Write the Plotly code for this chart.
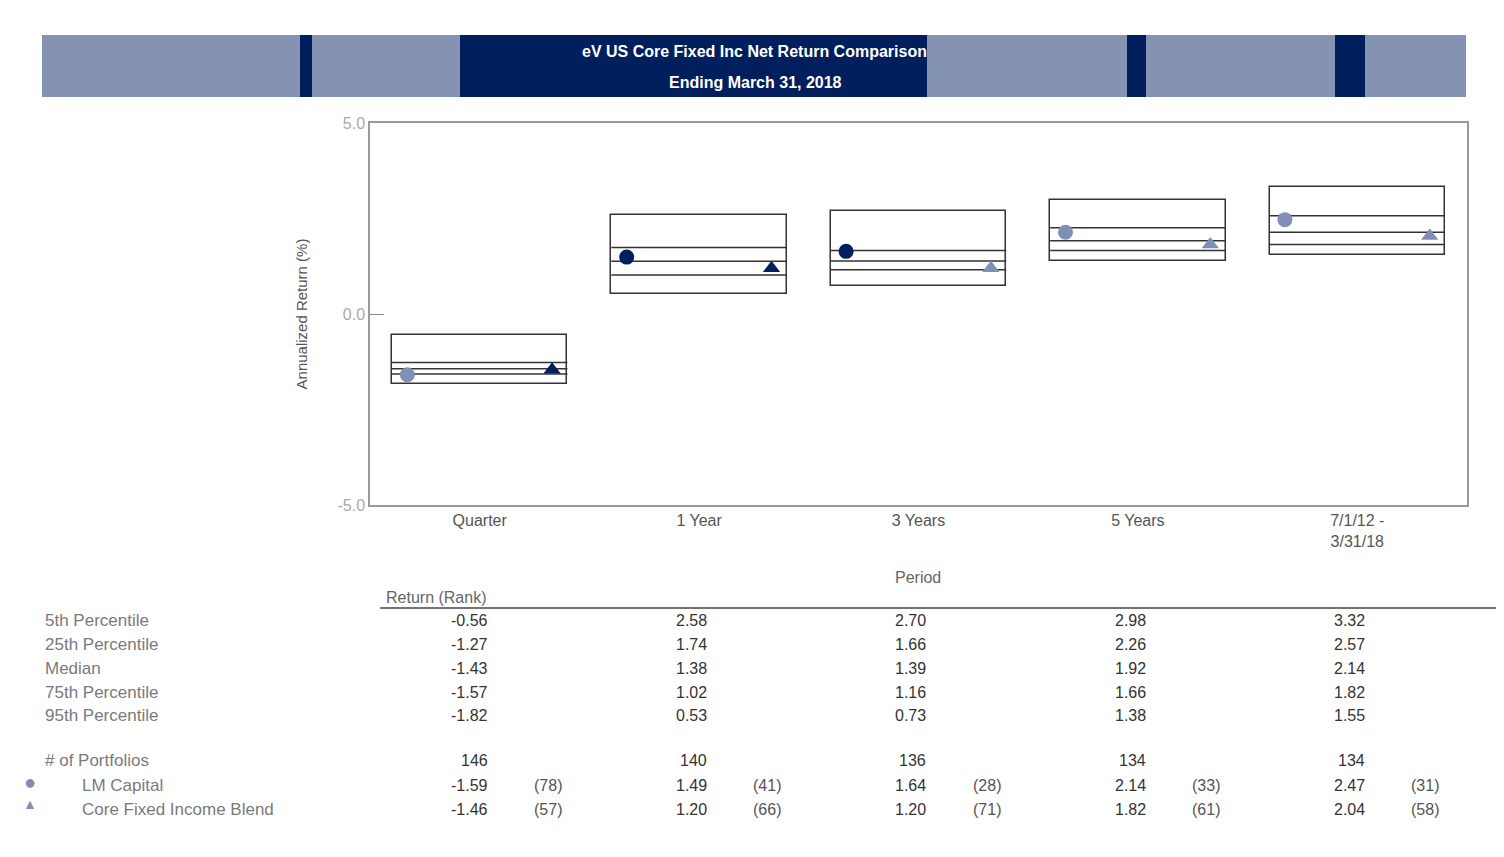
import plotly.graph_objects as go

periods = ["Quarter", "1 Year", "3 Years", "5 Years", "7/1/12 -<br>3/31/18"]
p5 = [-0.56, 2.58, 2.70, 2.98, 3.32]
p25 = [-1.27, 1.74, 1.66, 2.26, 2.57]
median = [-1.43, 1.38, 1.39, 1.92, 2.14]
p75 = [-1.57, 1.02, 1.16, 1.66, 1.82]
p95 = [-1.82, 0.53, 0.73, 1.38, 1.55]
n_portfolios = [146, 140, 136, 134, 134]
lm_capital = [-1.59, 1.49, 1.64, 2.14, 2.47]
lm_rank = [78, 41, 28, 33, 31]
blend = [-1.46, 1.20, 1.20, 1.82, 2.04]
blend_rank = [57, 66, 71, 61, 58]

row_labels = ["5th Percentile", "25th Percentile", "Median", "75th Percentile", "95th Percentile"]

NAVY = "#001f5c"
LIGHT = "#7f8fb5"
FONT = "Liberation Sans, Arial"

# page has an 8px body margin, so the figure is 8px smaller and coordinates below are screen pixels
OFF = 8
W, H = 1504 - OFF, 857 - OFF
L, R, T, B = 370, 1467, 123, 505


def px(x):
    return (x - L) / (R - L)


def py(y):
    return (B - y) / (B - T)


xs = list(range(len(periods)))
fig = go.Figure()

# floating boxes 5th..95th
fig.add_trace(go.Bar(
    x=xs, y=[a - b for a, b in zip(p5, p95)], base=p95, width=0.8,
    marker=dict(color="white", line=dict(color="#333333", width=1.5)),
    hoverinfo="skip", showlegend=False,
))

# percentile lines inside boxes
lx, ly = [], []
for i in xs:
    for v in (p25[i], median[i], p75[i]):
        lx += [i - 0.4, i + 0.4, None]
        ly += [v, v, None]
fig.add_trace(go.Scatter(x=lx, y=ly, mode="lines", line=dict(color="#333333", width=1.5),
                         hoverinfo="skip", showlegend=False))

fig.add_trace(go.Scatter(
    x=[i - 0.33 for i in xs], y=lm_capital, mode="markers", name="LM Capital",
    marker=dict(symbol="circle", size=15, color=[LIGHT, NAVY, NAVY, LIGHT, LIGHT]),
    showlegend=False,
))
fig.add_trace(go.Scatter(
    x=[i + 0.33 for i in xs], y=blend, mode="markers", name="Core Fixed Income Blend",
    marker=dict(symbol="triangle-up", size=15, color=[NAVY, NAVY, LIGHT, LIGHT, LIGHT]),
    showlegend=False,
))

shapes = []
# header band
shapes.append(dict(type="rect", xref="paper", yref="paper", x0=px(42), x1=px(1466), y0=py(97), y1=py(35),
                   fillcolor="#8593b3", line=dict(width=0), layer="below"))
for a, b in [(300, 312), (460, 927), (1127, 1146), (1335, 1365)]:
    shapes.append(dict(type="rect", xref="paper", yref="paper", x0=px(a), x1=px(b), y0=py(97), y1=py(35),
                       fillcolor=NAVY, line=dict(width=0), layer="below"))
# table header rule
shapes.append(dict(type="line", xref="paper", yref="paper", x0=px(380), x1=px(1504), y0=py(608), y1=py(608),
                   line=dict(color="#444444", width=1.5)))

ann = []


def text(t, x, y, size=16, color="#333333", xanchor="center", xref="paper"):
    ann.append(dict(text=t, xref=xref, yref="paper", x=x if xref != "paper" else px(x), y=py(y),
                    xanchor=xanchor, yanchor="middle", showarrow=False,
                    font=dict(color=color, size=size, family=FONT)))


text("<b>eV US Core Fixed Inc Net Return Comparison</b>", 754, 51, size=16, color="white")
text("<b>Ending March 31, 2018</b>", 755, 82, size=16, color="white")
text("Period", 918, 577, color="#666666")
text("Return (Rank)", 384, 597, color="#666666", xanchor="left")

row_y = [620, 644, 668, 692, 715]
for lbl, y in zip(row_labels, row_y):
    text(lbl, 43, y, size=17, color="#7a7a7a", xanchor="left")
for lbl, y, ind in [("# of Portfolios", 760, 43), ("LM Capital", 785, 80), ("Core Fixed Income Blend", 809, 80)]:
    text(lbl, ind, y, size=17, color="#7a7a7a", xanchor="left")
text("●", 30, 782, size=20, color=LIGHT)
text("▲", 30, 804, size=14, color=LIGHT)

for i in xs:
    for series, y in zip([p5, p25, median, p75, p95], row_y):
        text(f"{series[i]:.2f}", i + 0.045, y, xanchor="right", xref="x")
    text(str(n_portfolios[i]), i + 0.045, 760, xanchor="right", xref="x")
    for vals, ranks, y in [(lm_capital, lm_rank, 785), (blend, blend_rank, 809)]:
        text(f"{vals[i]:.2f}", i + 0.045, y, xanchor="right", xref="x")
        text(f"({ranks[i]})", i + 0.31, y, color="#555555", xref="x")

fig.update_layout(
    width=W, height=H,
    margin=dict(l=L - OFF, r=1504 - R, t=T - OFF, b=857 - B),
    paper_bgcolor="white", plot_bgcolor="white",
    shapes=shapes, annotations=ann,
    font=dict(family=FONT),
    xaxis=dict(range=[-0.5, 4.5], tickvals=xs, ticktext=periods, showgrid=False, zeroline=False,
               showline=True, mirror=True, linecolor="#999999", linewidth=1.5,
               tickfont=dict(size=16, color="#555555", family=FONT), fixedrange=True),
    yaxis=dict(range=[-5, 5], tickvals=[-5, 0, 5], ticktext=["-5.0", "0.0", "5.0"], showgrid=False,
               zeroline=False, showline=True, mirror=True, linecolor="#999999", linewidth=1.5,
               ticks="inside", ticklen=14, tickcolor="#888888",
               tickfont=dict(size=16, color="#aaaaaa", family=FONT),
               title=dict(text="Annualized Return (%)", font=dict(size=15, color="#555555", family=FONT),
                          standoff=26)),
    bargap=0,
)

fig.write_html("out.html")
